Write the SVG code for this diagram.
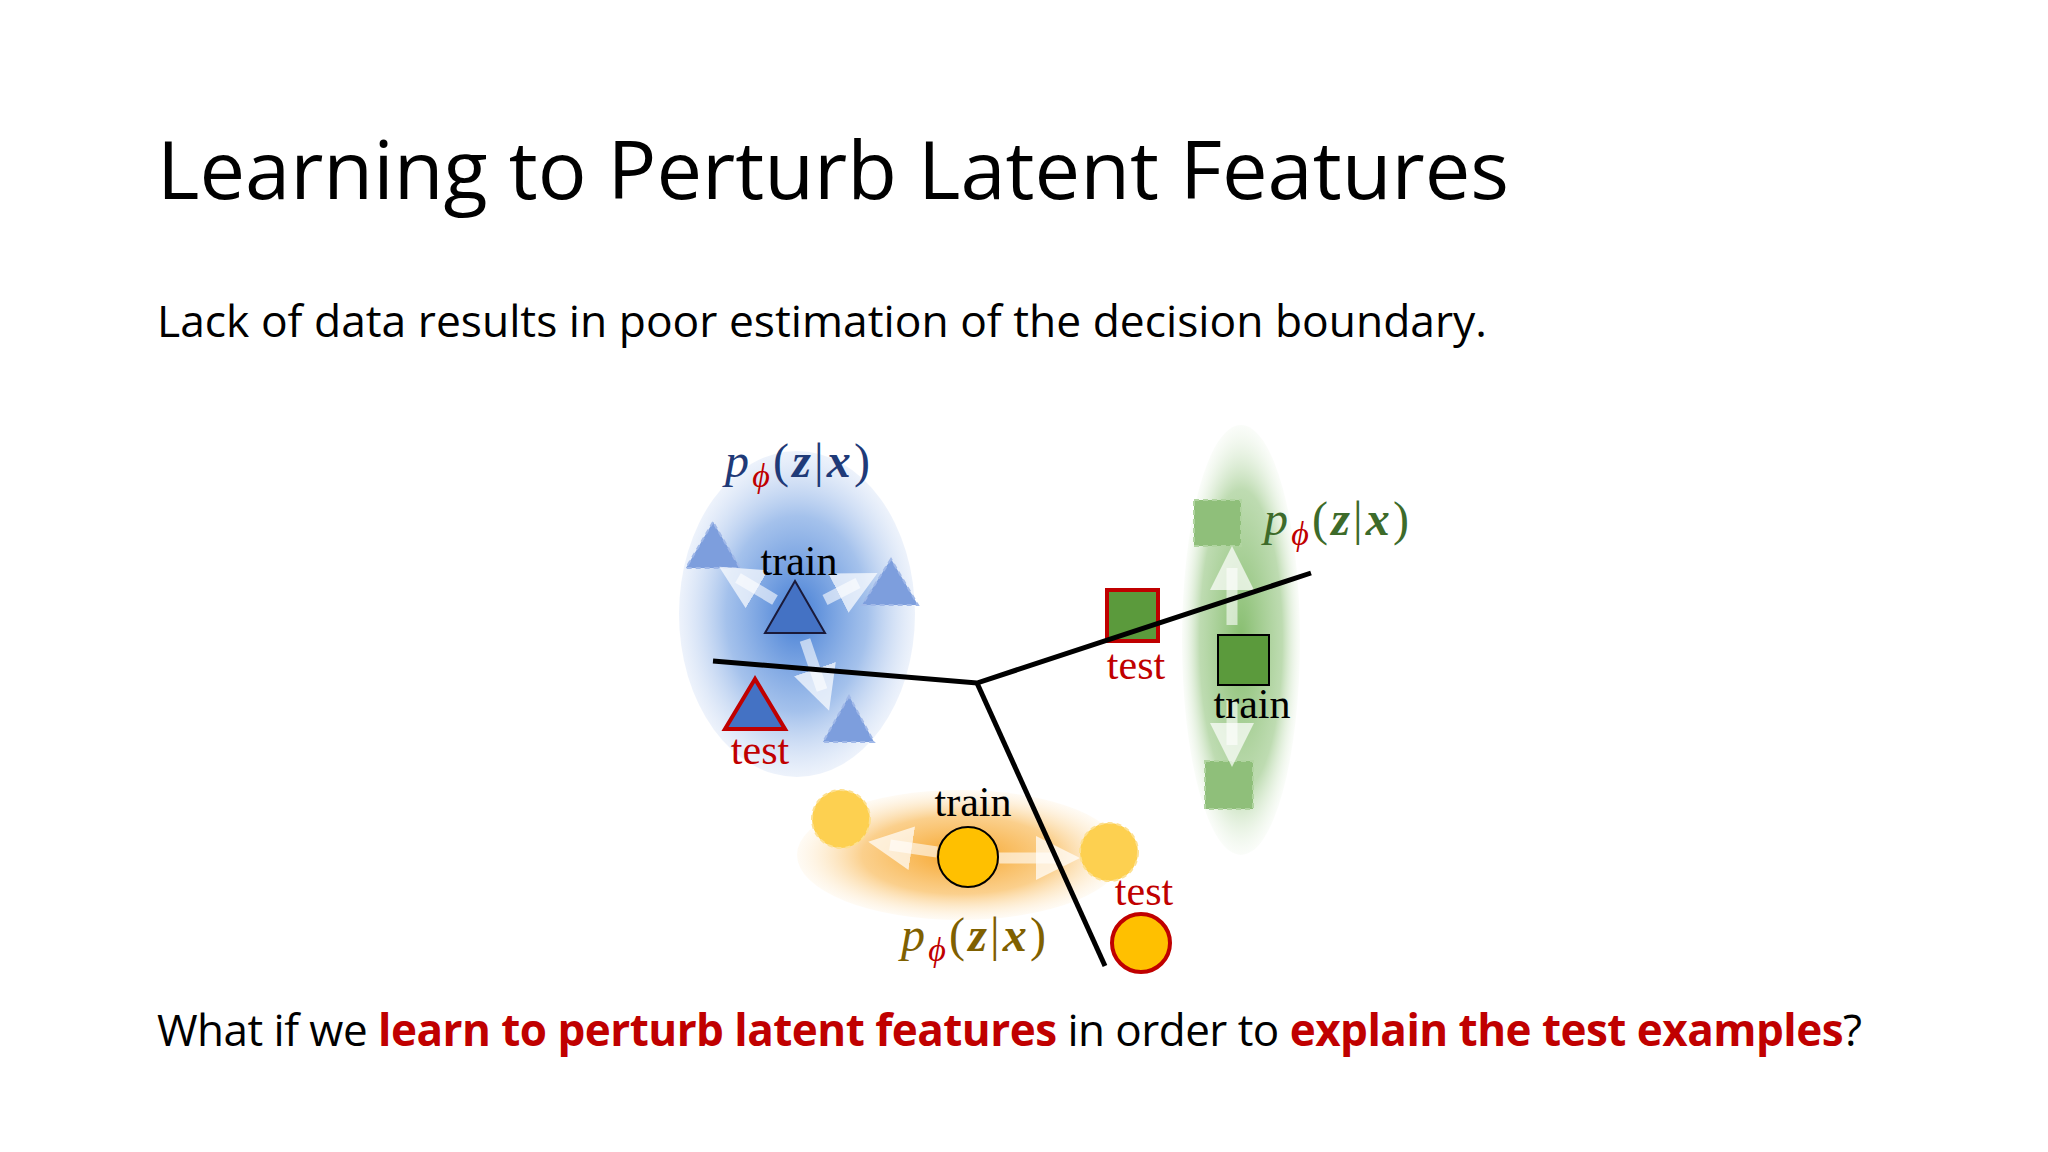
<svg xmlns="http://www.w3.org/2000/svg" width="2048" height="1152" viewBox="0 0 2048 1152">
<defs>
<radialGradient id="gb"><stop offset="0" stop-color="#2f6fd0" stop-opacity="0.9"/><stop offset="0.6" stop-color="#5a8fdc" stop-opacity="0.55"/><stop offset="1" stop-color="#b8cdf0" stop-opacity="0.25"/></radialGradient>
<radialGradient id="gg"><stop offset="0" stop-color="#5fa83f" stop-opacity="0.75"/><stop offset="0.7" stop-color="#7db864" stop-opacity="0.5"/><stop offset="1" stop-color="#cfe6c4" stop-opacity="0.1"/></radialGradient>
<radialGradient id="go"><stop offset="0" stop-color="#f59a10" stop-opacity="0.9"/><stop offset="0.6" stop-color="#f8b040" stop-opacity="0.6"/><stop offset="1" stop-color="#fde3b8" stop-opacity="0.15"/></radialGradient>
<marker id="ah" markerWidth="4" markerHeight="4" refX="2" refY="2" orient="auto" markerUnits="strokeWidth"><path d="M0,0 L4,2 L0,4 Z" fill="#ffffff" fill-opacity="0.7"/></marker>
<style>
.t{font-family:"Open Sans","Noto Sans",sans-serif;fill:#000}
.s{font-family:"Liberation Serif","DejaVu Serif",serif;font-size:42px;text-anchor:middle}
.m{font-family:"Liberation Serif","DejaVu Serif",serif;font-size:48px;font-style:italic}
.arr{stroke:#ffffff;stroke-opacity:0.6;stroke-width:11;fill:none;marker-end:url(#ah)}
.fb{fill:#7d9edd;stroke:#a0b8e8;stroke-dasharray:5 4;stroke-width:2}
.fg{fill:#8fbf7a;stroke:#b0d4a0;stroke-dasharray:5 4;stroke-width:2}
.fo{fill:#fdd050;stroke:#fde090;stroke-dasharray:5 4;stroke-width:2}
</style>
</defs>
<rect width="2048" height="1152" fill="#ffffff"/>
<text class="t" x="157" y="199" font-size="80" textLength="1352" lengthAdjust="spacingAndGlyphs">Learning to Perturb Latent Features</text>
<text class="t" x="157" y="337" font-size="43" textLength="1330" lengthAdjust="spacingAndGlyphs">Lack of data results in poor estimation of the decision boundary.</text>
<text class="t" x="157" y="1046" font-size="44" textLength="1705">What if we <tspan fill="#c00000" font-weight="bold">learn to perturb latent features</tspan> in order to <tspan fill="#c00000" font-weight="bold">explain the test examples</tspan>?</text>

<g id="blue-dist">
<ellipse cx="797" cy="614" rx="118" ry="163" fill="url(#gb)"/>
<text class="m" x="725" y="477" fill="#1f3a78" textLength="145">p<tspan fill="#c00000" font-size="34" dy="10">ϕ</tspan><tspan dy="-10" font-style="normal">(</tspan><tspan font-weight="bold">z</tspan><tspan font-style="normal">|</tspan><tspan font-weight="bold">x</tspan><tspan font-style="normal">)</tspan></text>
<polygon class="fb" points="713,522 686,568 740,568"/>
<polygon class="fb" points="891,559 862,605 918,605"/>
<polygon class="fb" points="849,696 823,742 874,742"/>
<path class="arr" d="M775,600 L738,578"/>
<path class="arr" d="M825,600 L858,583"/>
<path class="arr" d="M805,640 L822,690"/>
<polygon points="795,581 765,633 825,633" fill="#4472c4" stroke="#1a1a3a" stroke-width="2"/>
<text class="s" x="799" y="575">train</text>
<polygon points="755,679 725,729 785,729" fill="#4472c4" stroke="#c00000" stroke-width="4"/>
<text class="s" x="760" y="764" fill="#c00000">test</text>
</g>

<g id="green-dist">
<ellipse cx="1241" cy="640" rx="59" ry="215" fill="url(#gg)"/>
<text class="m" x="1264" y="535" fill="#3d6b2a" textLength="145">p<tspan fill="#c00000" font-size="34" dy="10">ϕ</tspan><tspan dy="-10" font-style="normal">(</tspan><tspan font-weight="bold">z</tspan><tspan font-style="normal">|</tspan><tspan font-weight="bold">x</tspan><tspan font-style="normal">)</tspan></text>
<rect class="fg" x="1194" y="500" width="47" height="46"/>
<rect class="fg" x="1205" y="761" width="48" height="48"/>
<path class="arr" d="M1232,625 L1232,568"/>
<path class="arr" d="M1232,700 L1232,745"/>
<rect x="1218" y="635" width="51" height="50" fill="#5b9a3c" stroke="#000" stroke-width="2"/>
<text class="s" x="1252" y="718">train</text>
<rect x="1107" y="590" width="51" height="51" fill="#5b9a3c" stroke="#c00000" stroke-width="4"/>
<text class="s" x="1136" y="679" fill="#c00000">test</text>
</g>

<g id="orange-dist">
<ellipse cx="960" cy="855" rx="163" ry="65" fill="url(#go)"/>
<text class="m" x="901" y="951" fill="#7f6000" textLength="145">p<tspan fill="#c00000" font-size="34" dy="10">ϕ</tspan><tspan dy="-10" font-style="normal">(</tspan><tspan font-weight="bold">z</tspan><tspan font-style="normal">|</tspan><tspan font-weight="bold">x</tspan><tspan font-style="normal">)</tspan></text>
<circle class="fo" cx="841" cy="819" r="29"/>
<circle class="fo" cx="1109" cy="852" r="29"/>
<path class="arr" d="M937,852 L890,845"/>
<path class="arr" d="M999,858 L1058,858"/>
<circle cx="968" cy="857" r="30" fill="#ffc000" stroke="#000" stroke-width="2"/>
<text class="s" x="973" y="816">train</text>
<circle cx="1141" cy="943" r="29" fill="#ffc000" stroke="#c00000" stroke-width="4"/>
<text class="s" x="1144" y="905" fill="#c00000">test</text>
</g>

<g id="connectors" stroke="#000" stroke-width="5" fill="none" stroke-linejoin="miter">
<path d="M713,661 L977,683 L1311,573"/>
<path d="M977,683 L1105,966"/>
</g>
</svg>
